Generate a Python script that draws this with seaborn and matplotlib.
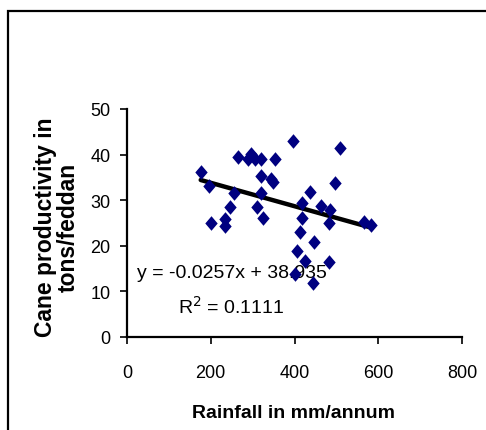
import matplotlib
matplotlib.use("Agg")
import matplotlib.pyplot as plt
from matplotlib.patches import Rectangle
import numpy as np
import pandas as pd
import seaborn as sns

# ---- data ----
rainfall = [176, 196, 200, 234, 234, 246, 255, 266, 290, 295, 305, 320, 353,
            320, 320, 311, 324, 345, 349, 397, 419, 418, 414, 438, 405, 447,
            426, 443, 401, 508, 496, 464, 485, 483, 566, 582, 483]
productivity = [36.2, 33.0, 25.0, 25.8, 24.3, 28.4, 31.6, 39.5, 39.0, 40.2,
                39.1, 39.0, 39.0, 35.3, 31.6, 28.4, 26.0, 34.6, 33.9, 42.9,
                29.3, 26.1, 23.0, 31.7, 18.9, 20.8, 16.7, 11.7, 13.8, 41.4,
                33.7, 28.8, 27.9, 25.0, 25.1, 24.5, 16.4]
slope = -0.0257
intercept = 38.935
r_squared = 0.1111
x_ticks = [0, 200, 400, 600, 800]
y_ticks = [0, 10, 20, 30, 40, 50]

df = pd.DataFrame({"Rainfall": rainfall, "Productivity": productivity})

sns.set_theme(style="white")
plt.rcParams["font.family"] = ["Liberation Sans", "DejaVu Sans"]

W, H = 486, 431
fig = plt.figure(figsize=(W / 100, H / 100), dpi=100)
fig.patch.set_facecolor("white")
ax = fig.add_axes([127 / W, (H - 337.7) / H, (462 - 127) / W, (337.7 - 110) / H])

diamond = [(0, 1), (0.85, 0), (0, -1), (-0.85, 0), (0, 1)]
sns.scatterplot(data=df, x="Rainfall", y="Productivity", marker=diamond, s=110,
                color="#000080", linewidth=0, ax=ax, zorder=3)

xs = np.array([min(rainfall), max(rainfall)])
sns.lineplot(x=xs, y=slope * xs + intercept, color="black", linewidth=3.2,
             ax=ax, zorder=2)

ax.set_xlim(0, 800)
ax.set_ylim(0, 50)
ax.set_xticks(x_ticks)
ax.set_yticks(y_ticks)
ax.set_xticklabels([str(t) for t in x_ticks])
ax.set_yticklabels([str(t) for t in y_ticks])

for s in ["top", "right"]:
    ax.spines[s].set_visible(False)
for s in ["left", "bottom"]:
    ax.spines[s].set_color("black")
    ax.spines[s].set_linewidth(1.6)

ax.tick_params(axis="x", direction="out", length=5, width=1.2, color="black",
               labelsize=13, labelcolor="black", pad=15, bottom=True)
ax.tick_params(axis="y", direction="out", length=5, width=1.2, color="black",
               labelsize=13, labelcolor="black", pad=7, left=True)

ax.set_xlabel("Rainfall in mm/annum", fontsize=14, fontweight="bold",
              color="black")
ax.xaxis.set_label_coords(0.496, -0.331)
ax.xaxis.label.set_va("center")

ax.set_ylabel("Cane productivity in\ntons/feddan", fontsize=16.5,
              fontweight="bold", color="black", linespacing=1.0)
ax.yaxis.set_label_coords(-0.21, 0.484)
ax.yaxis.label.set_va("center")
ax.yaxis.label.set_ha("center")

ax.text(0.313, 0.284, f"y = {slope}x + {intercept}", transform=ax.transAxes,
        ha="center", va="center", fontsize=14, color="black", zorder=1)
ax.text(0.310, 0.135, f"R$^2$ = {r_squared}", transform=ax.transAxes,
        ha="center", va="center", fontsize=14, color="black", zorder=1)

fig.add_artist(Rectangle((8 / W, -0.05), 1.1, (H - 12) / H + 0.05,
                         transform=fig.transFigure, fill=False,
                         edgecolor="black", linewidth=1.6))

fig.savefig("out.png", dpi=100, facecolor="white")
